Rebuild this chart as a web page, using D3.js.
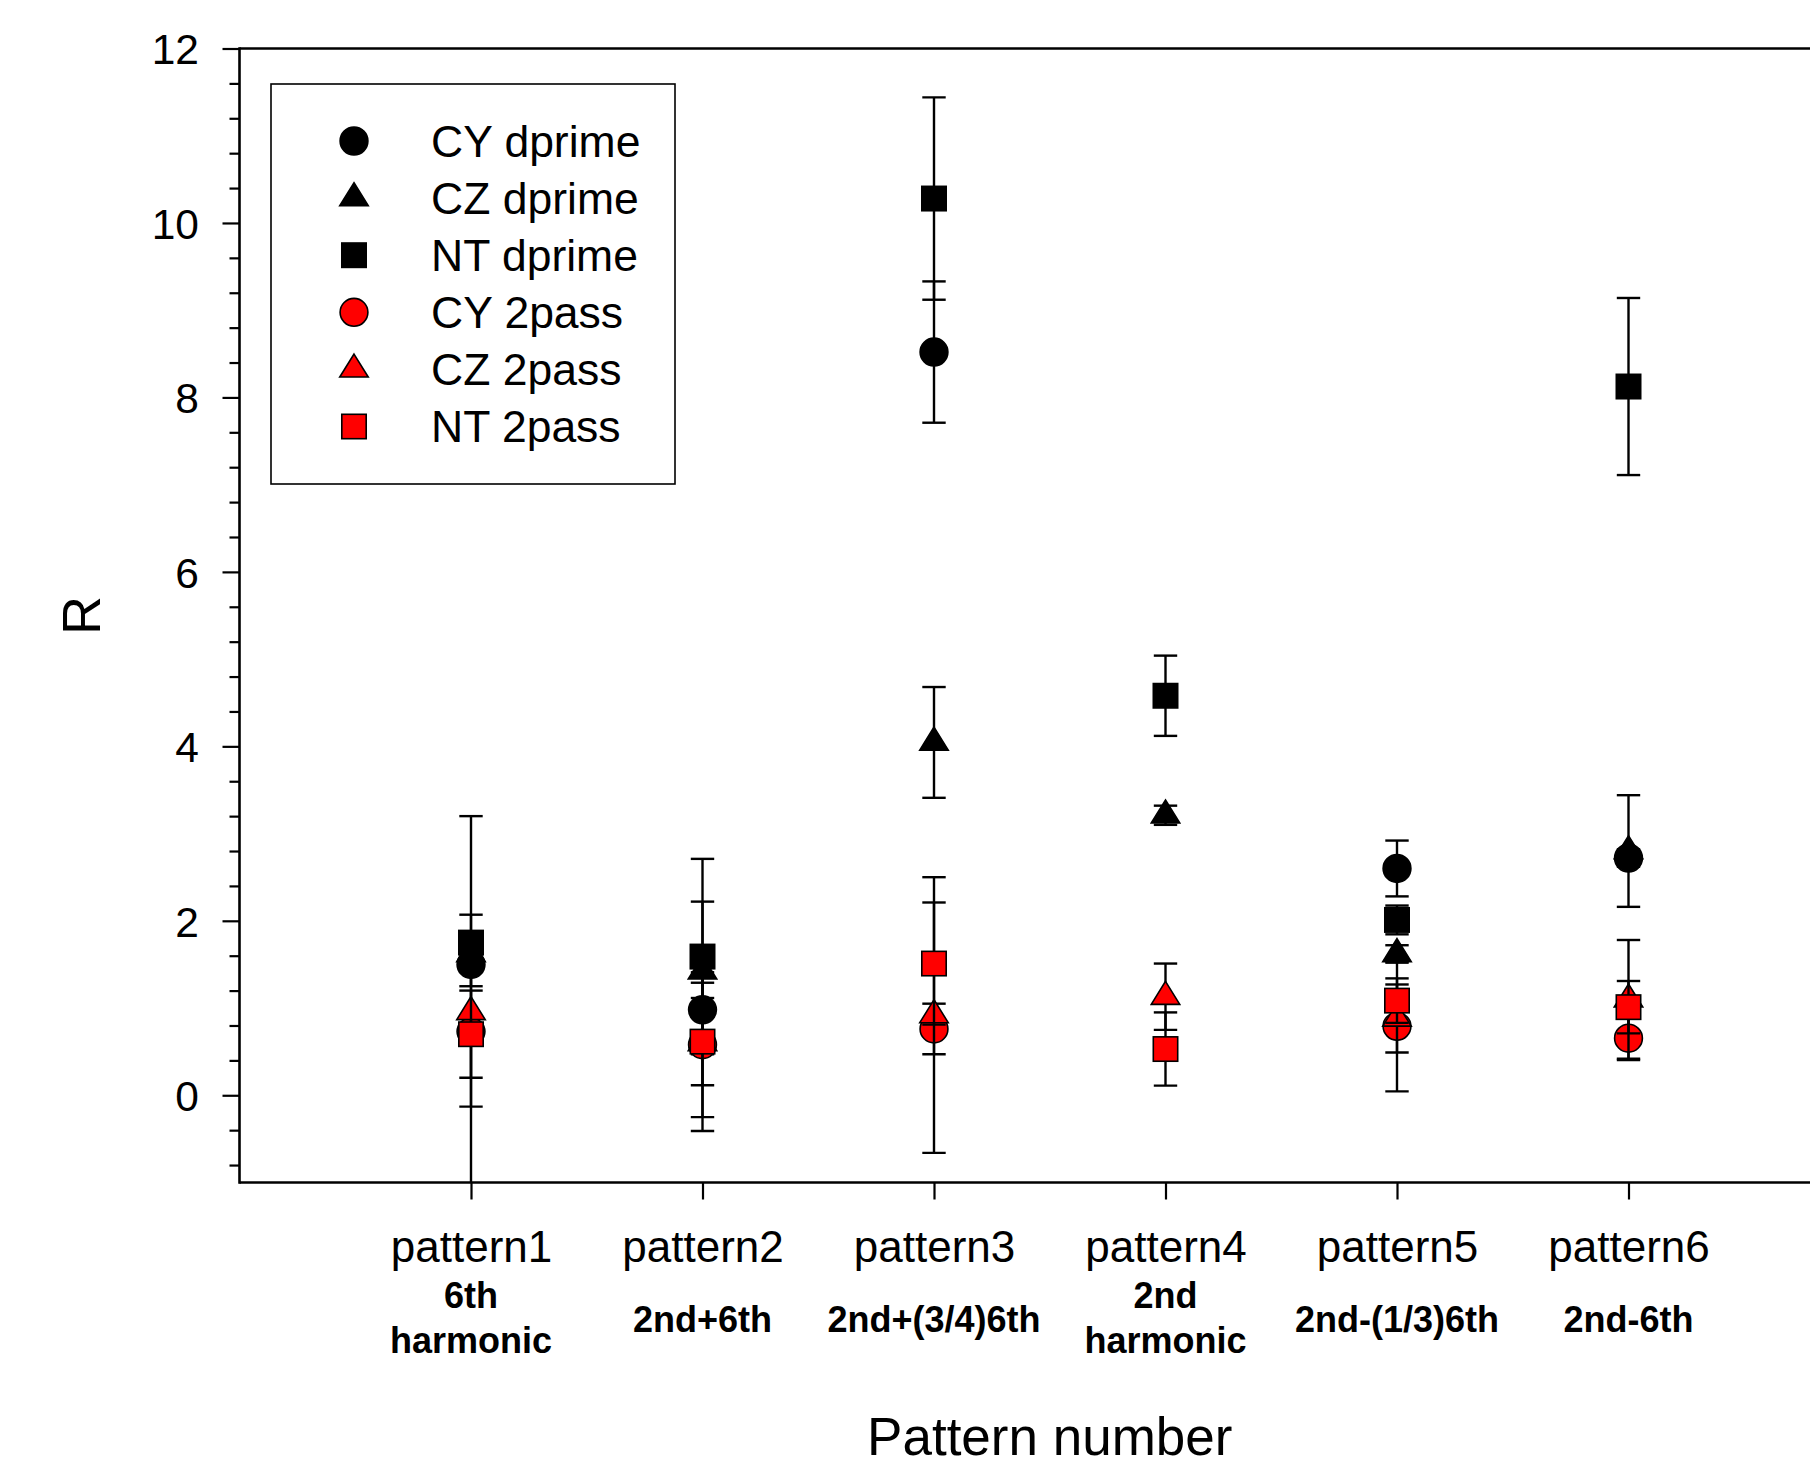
<!DOCTYPE html>
<html><head><meta charset="utf-8">
<script src="https://cdn.jsdelivr.net/npm/d3@7"></script>
<style>
body{margin:0;background:#fff}
svg{display:block}
text{font-family:"Liberation Sans",Arial,Helvetica,sans-serif;fill:#000}
</style>
</head><body>
<svg id="chart" width="1810" height="1469"></svg>
<script>
// ---------------- data ----------------
const categories = ["pattern1","pattern2","pattern3","pattern4","pattern5","pattern6"];
const subLabels = [["6th","harmonic"],["2nd+6th"],["2nd+(3/4)6th"],["2nd","harmonic"],["2nd-(1/3)6th"],["2nd-6th"]];
const xPositions = [1,2,3,4,5,6];

const cyDprime    = [1.50, 0.98, 8.52, null, 2.60, 2.72];
const cyDprimeErr = [0.25, 0.31, 0.81, null, 0.32, 0.10];
const czDprime    = [1.62, 1.42, 4.045, 3.21, 1.62, 2.80];
const czDprimeErr = [0.12, 0.80, 0.635, 0.11, 0.10, 0.64];
const ntDprime    = [1.75, 1.59, 10.28, 4.58, 2.01, 8.125];
const ntDprimeErr = [0.32, 1.12, 1.16, 0.46, 0.165, 1.015];
const cy2pass     = [0.73, 0.58, 0.76, null, 0.79, 0.654];
const cy2passErr  = [0.86, 0.83, 0.29, null, 0.745, 0.25];
const cz2pass     = [0.955, 0.60, 0.92, 1.13, 0.88, 1.10];
const cz2passErr  = [2.245, 1.01, 1.58, 0.38, 0.39, 0.68];
const nt2pass     = [0.70, 0.615, 1.51, 0.53, 1.085, 1.01];
const nt2passErr  = [0.50, 0.50, 0.70, 0.42, 0.255, 0.30];

const seriesNames = ["CY dprime","CZ dprime","NT dprime","CY 2pass","CZ 2pass","NT 2pass"];
const seriesShapes = ["circle","triangle","square","circle","triangle","square"];
const seriesColors = ["#000000","#000000","#000000","#ff0000","#ff0000","#ff0000"];
const seriesValues = [cyDprime, czDprime, ntDprime, cy2pass, cz2pass, nt2pass];
const seriesErrors = [cyDprimeErr, czDprimeErr, ntDprimeErr, cy2passErr, cz2passErr, nt2passErr];

const yMajorTicks = [0,2,4,6,8,10,12];
const yMinorTicks = [-0.8,-0.4,0.4,0.8,1.2,1.6,2.4,2.8,3.2,3.6,4.4,4.8,5.2,5.6,6.4,6.8,7.2,7.6,8.4,8.8,9.2,9.6,10.4,10.8,11.2,11.6];

const xTitle = "Pattern number";
const yTitle = "R";

// ---------------- layout ----------------
const L = 239.5, T = 48.5, R = 1860, B = 1182.5;
const svg = d3.select("#chart");
svg.append("rect").attr("width",1810).attr("height",1469).attr("fill","#fff");

const x = d3.scaleLinear().domain([0,7]).range([L,R]);
const y = d3.scaleLinear().domain([-1,12]).range([B,T]);

// minor y ticks
const yMinor = svg.append("g").attr("transform",`translate(${L},0)`)
  .call(d3.axisLeft(y).tickValues(yMinorTicks).tickSize(10).tickFormat(""));
yMinor.select(".domain").remove();
yMinor.selectAll("line").attr("stroke","#000").attr("stroke-width",2.2);

// major y ticks
const yAxis = svg.append("g").attr("transform",`translate(${L},0)`)
  .call(d3.axisLeft(y).tickValues(yMajorTicks).tickSize(17).tickPadding(23.5).tickFormat(d3.format("d")));
yAxis.select(".domain").remove();
yAxis.selectAll("line").attr("stroke","#000").attr("stroke-width",2.2);
yAxis.selectAll("text").attr("font-size",42.5).attr("dy","0.36em")
  .style("font-family",'"Liberation Sans",Arial,sans-serif').attr("fill","#000");

// x axis
const xAxis = svg.append("g").attr("transform",`translate(0,${B})`)
  .call(d3.axisBottom(x).tickValues(xPositions).tickSize(17).tickFormat(d => categories[d-1]));
xAxis.select(".domain").remove();
xAxis.selectAll("line").attr("stroke","#000").attr("stroke-width",2.2);
xAxis.selectAll("text").attr("font-size",44).attr("y",79.5).attr("dy",0)
  .style("font-family",'"Liberation Sans",Arial,sans-serif').attr("fill","#000");

// sub labels (bold)
const subG = svg.append("g");
subLabels.forEach((lines,i) => {
  const cx = x(xPositions[i]);
  const baselines = lines.length === 2 ? [1308, 1353] : [1331.5];
  lines.forEach((s,j) => {
    subG.append("text").attr("x",cx).attr("y",baselines[j])
      .attr("text-anchor","middle").attr("font-size",36).attr("font-weight","bold").text(s);
  });
});

// frame
const frame = svg.append("g").attr("stroke","#000").attr("stroke-width",2.6).attr("fill","none");
frame.append("line").attr("x1",L).attr("x2",R).attr("y1",T).attr("y2",T);
frame.append("line").attr("x1",L).attr("x2",L).attr("y1",T-1.3).attr("y2",B+1.3);
frame.append("line").attr("x1",L).attr("x2",R).attr("y1",B).attr("y2",B);

// titles
svg.append("text").attr("x",(L+R)/2).attr("y",1455).attr("text-anchor","middle")
  .attr("font-size",53).text(xTitle);
svg.append("text").attr("transform",`translate(100,${(T+B)/2}) rotate(-90)`)
  .attr("text-anchor","middle").attr("font-size",54).text(yTitle);

// marker drawing
const triW = 28.5, triH = 23;
function drawMarker(g, shape, cx, cy, color) {
  const sw = 1.6;
  if (shape === "circle") {
    g.append("circle").attr("cx",cx).attr("cy",cy).attr("r",13.9)
      .attr("fill",color).attr("stroke","#000").attr("stroke-width",sw);
  } else if (shape === "square") {
    const s = 24.4;
    g.append("rect").attr("x",cx-s/2).attr("y",cy-s/2).attr("width",s).attr("height",s)
      .attr("fill",color).attr("stroke","#000").attr("stroke-width",sw);
  } else {
    const p = d3.path();
    p.moveTo(cx, cy - 2*triH/3);
    p.lineTo(cx + triW/2, cy + triH/3);
    p.lineTo(cx - triW/2, cy + triH/3);
    p.closePath();
    g.append("path").attr("d",p.toString())
      .attr("fill",color).attr("stroke","#000").attr("stroke-width",sw).attr("stroke-linejoin","miter");
  }
}

// clip
svg.append("clipPath").attr("id","plotclip").append("rect")
  .attr("x",L).attr("y",T).attr("width",R-L).attr("height",B-T);

const plot = svg.append("g");
const capHalf = 11.7;
seriesValues.forEach((vals, si) => {
  const errs = seriesErrors[si];
  const eg = plot.append("g").attr("clip-path","url(#plotclip)")
    .attr("stroke","#000").attr("stroke-width",2.4);
  vals.forEach((v,i) => {
    if (v == null) return;
    const cx = x(xPositions[i]);
    const e = errs[i];
    const yTop = y(v + e), yBot = y(v - e);
    eg.append("line").attr("x1",cx).attr("x2",cx).attr("y1",yTop).attr("y2",yBot);
    eg.append("line").attr("x1",cx-capHalf).attr("x2",cx+capHalf).attr("y1",yTop).attr("y2",yTop);
    eg.append("line").attr("x1",cx-capHalf).attr("x2",cx+capHalf).attr("y1",yBot).attr("y2",yBot);
  });
  const mg = plot.append("g");
  vals.forEach((v,i) => {
    if (v == null) return;
    drawMarker(mg, seriesShapes[si], x(xPositions[i]), y(v), seriesColors[si]);
  });
});

// legend
const lg = svg.append("g");
lg.append("rect").attr("x",271).attr("y",84).attr("width",404).attr("height",400)
  .attr("fill","#fff").attr("stroke","#000").attr("stroke-width",1.6);
seriesNames.forEach((name,i) => {
  const ry = 141 + i*57.1;
  drawMarker(lg, seriesShapes[i], 354, ry, seriesColors[i]);
  lg.append("text").attr("x",431).attr("y",ry+15.5).attr("font-size",44.5).text(name);
});
</script>
</body></html>
